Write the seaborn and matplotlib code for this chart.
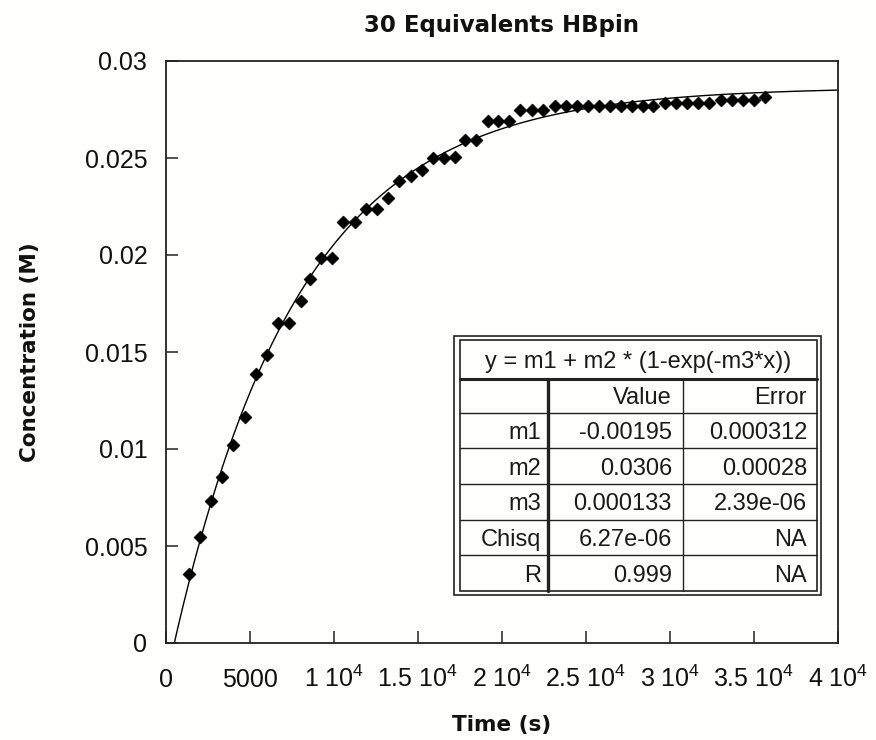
import numpy as np
import matplotlib
matplotlib.use("Agg")
import matplotlib.pyplot as plt
import seaborn as sns
from matplotlib.patches import Rectangle
from matplotlib.lines import Line2D

# Measured product concentration over time
time_s = [1370, 2020, 2660, 3320, 4010, 4700, 5340, 5990, 6690, 7340,
          8020, 8570, 9230, 9880, 10550, 11250, 11900, 12580, 13230, 13870,
          14570, 15260, 15910, 16570, 17200, 17800, 18450, 19160, 19780, 20440,
          21090, 21770, 22460, 23140, 23810, 24450, 25090, 25770, 26430, 27110,
          27740, 28390, 29010, 29700, 30360, 31010, 31670, 32320, 33020, 33670,
          34350, 35020, 35660]
conc_M = [0.00356, 0.00546, 0.00730, 0.00857, 0.01019, 0.01163, 0.01388, 0.01485, 0.01648, 0.01648,
          0.01763, 0.01878, 0.01986, 0.01986, 0.02169, 0.02169, 0.02236, 0.02236, 0.02292, 0.02381,
          0.02407, 0.02438, 0.02498, 0.02498, 0.02504, 0.02593, 0.02593, 0.02691, 0.02691, 0.02691,
          0.02747, 0.02747, 0.02747, 0.02768, 0.02768, 0.02768, 0.02768, 0.02768, 0.02768, 0.02768,
          0.02768, 0.02768, 0.02768, 0.02786, 0.02786, 0.02786, 0.02786, 0.02786, 0.02799, 0.02799,
          0.02799, 0.02799, 0.02816]

# Fit results: y = m1 + m2 * (1 - exp(-m3 * x))
fit_formula = "y = m1 + m2 * (1-exp(-m3*x))"
fit_header = ["", "Value", "Error"]
fit_rows = ["m1", "m2", "m3", "Chisq", "R"]
fit_values = ["-0.00195", "0.0306", "0.000133", "6.27e-06", "0.999"]
fit_errors = ["0.000312", "0.00028", "2.39e-06", "NA", "NA"]
m1, m2, m3 = -0.00195, 0.0306, 0.000133

x_ticks = [0, 5000, 10000, 15000, 20000, 25000, 30000, 35000, 40000]
x_tick_labels = ["0", "5000", "1 10$^4$", "1.5 10$^4$", "2 10$^4$",
                 "2.5 10$^4$", "3 10$^4$", "3.5 10$^4$", "4 10$^4$"]
y_ticks = [0, 0.005, 0.01, 0.015, 0.02, 0.025, 0.03]
y_tick_labels = ["0", "0.005", "0.01", "0.015", "0.02", "0.025", "0.03"]

sns.set_theme(style="white")
plt.rcParams["font.family"] = ["Liberation Sans", "DejaVu Sans"]
plt.rcParams["mathtext.default"] = "regular"

W, H = 876, 740
bg = "#fefefc"
fig = plt.figure(figsize=(W / 100, H / 100), dpi=100, facecolor=bg)
ax = fig.add_axes([166 / W, 1 - 643 / H, 672 / W, 582 / H])
ax.set_facecolor(bg)

fit_x = np.linspace(0, 40000, 1200)
fit_y = m1 + m2 * (1 - np.exp(-m3 * fit_x))
sns.lineplot(x=fit_x, y=fit_y, color="black", linewidth=1.0,
             estimator=None, sort=False, ax=ax, zorder=2)
sns.scatterplot(x=time_s, y=conc_M, marker="D", s=44, color="black",
                edgecolor="black", linewidth=0.4, ax=ax, zorder=3)

ax.set_xlim(0, 40000)
ax.set_ylim(0, 0.03)
ax.set_xticks(x_ticks)
ax.set_xticklabels(x_tick_labels)
ax.set_yticks(y_ticks)
ax.set_yticklabels(y_tick_labels)
ax.tick_params(axis="both", direction="in", length=8.5, width=1.1,
               color="#222222", labelsize=18, labelcolor="#111111",
               bottom=True, left=True, top=False, right=False)
ax.tick_params(axis="y", pad=13.5)
ax.tick_params(axis="x", pad=32)
for lab in ax.get_xticklabels():
    lab.set_verticalalignment("baseline")

for sp in ax.spines.values():
    sp.set_visible(True)
    sp.set_color("#222222")
    sp.set_linewidth(1.3)

ax.set_title("30 Equivalents HBpin", fontfamily="DejaVu Sans",
             fontweight="bold", fontsize=16.5, pad=21, color="#111111")
ax.set_xlabel("Time (s)", fontfamily="DejaVu Sans", fontweight="bold",
              fontsize=15.5, color="#111111")
ax.set_ylabel("Concentration (M)", fontfamily="DejaVu Sans",
              fontweight="bold", fontsize=15.5, color="#111111")
ax.xaxis.set_label_coords(0.5, (643 - 715) / 582)
ax.yaxis.set_label_coords((40 - 166) / 672, 0.5)

# Fit-results box, laid out in figure pixels
def fx(px):
    return px / W


def fy(py):
    return 1 - py / H


tr = fig.transFigure
box_kw = dict(transform=tr, zorder=10)
fig.add_artist(Rectangle((fx(454), fy(595)), fx(821) - fx(454), fy(336) - fy(595),
                         facecolor=bg, edgecolor="#222222", linewidth=1.2, **box_kw))
fig.add_artist(Rectangle((fx(460), fy(591)), fx(817) - fx(460), fy(340) - fy(591),
                         facecolor="none", edgecolor="#222222", linewidth=1.2, **box_kw))


def hline(py, x0, x1, lw):
    fig.add_artist(Line2D([fx(x0), fx(x1)], [fy(py), fy(py)], color="#222222",
                          linewidth=lw, transform=tr, zorder=11))


def vline(px, y0, y1, lw):
    fig.add_artist(Line2D([fx(px), fx(px)], [fy(y0), fy(y1)], color="#222222",
                          linewidth=lw, transform=tr, zorder=11))


row_edges = [378.5, 413.3, 448.3, 484, 520, 555, 591]
hline(row_edges[0], 460, 817, 2.2)
for py in row_edges[1:-1]:
    hline(py, 460, 817, 1.0)
vline(548.3, 378.5, 591, 2.4)
vline(682.7, 378.5, 591, 1.0)

tkw = dict(transform=tr, zorder=12, fontsize=17, color="#1a1a1a",
           va="center_baseline")
fig.text(fx(638.5), fy(359.5), fit_formula, ha="center", **tkw)
col_right = [541, 672, 807]
centers = [(row_edges[i] + row_edges[i + 1]) / 2 for i in range(len(row_edges) - 1)]
fig.text(fx(col_right[1]), fy(centers[0]), fit_header[1], ha="right", **tkw)
fig.text(fx(col_right[2]), fy(centers[0]), fit_header[2], ha="right", **tkw)
for i, (name, val, err) in enumerate(zip(fit_rows, fit_values, fit_errors)):
    cy = fy(centers[i + 1])
    fig.text(fx(col_right[0]), cy, name, ha="right", **tkw)
    fig.text(fx(col_right[1]), cy, val, ha="right", **tkw)
    fig.text(fx(col_right[2]), cy, err, ha="right", **tkw)

fig.savefig("out.png", dpi=100, facecolor=bg)
